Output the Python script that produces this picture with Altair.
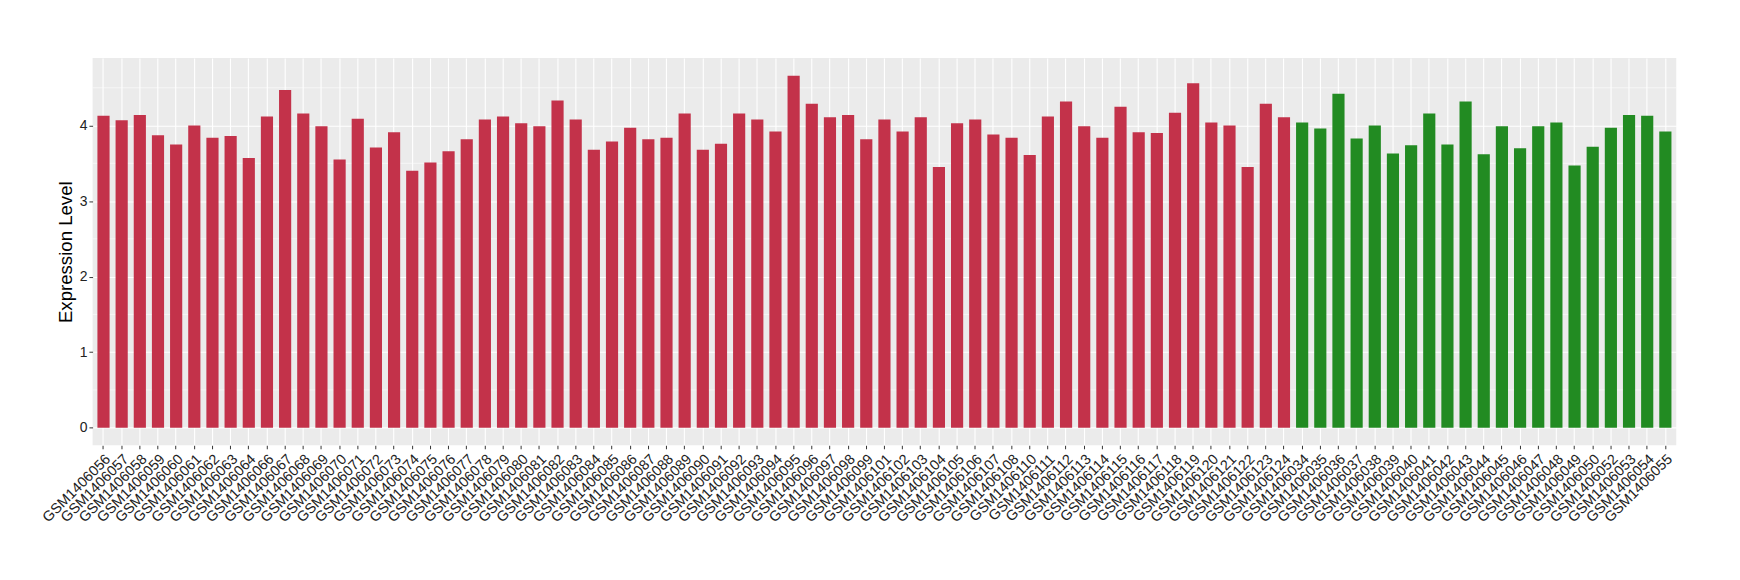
import altair as alt
import pandas as pd

case_ids = ["056", "057", "058", "059", "060", "061", "062", "063", "064", "066",
            "067", "068", "069", "070", "071", "072", "073", "074", "075", "076",
            "077", "078", "079", "080", "081", "082", "083", "084", "085", "086",
            "087", "088", "089", "090", "091", "092", "093", "094", "095", "096",
            "097", "098", "099", "101", "102", "103", "104", "105", "106", "107",
            "108", "110", "111", "112", "113", "114", "115", "116", "117", "118",
            "119", "120", "121", "122", "123", "124"]
case_values = [4.13, 4.07, 4.14, 3.87, 3.75, 4.00, 3.84, 3.86, 3.57, 4.12,
               4.47, 4.16, 3.99, 3.55, 4.09, 3.71, 3.91, 3.40, 3.51, 3.66,
               3.82, 4.08, 4.12, 4.03, 3.99, 4.33, 4.08, 3.68, 3.79, 3.97,
               3.82, 3.84, 4.16, 3.68, 3.76, 4.16, 4.08, 3.92, 4.66, 4.29,
               4.11, 4.14, 3.82, 4.08, 3.92, 4.11, 3.45, 4.03, 4.08, 3.88,
               3.84, 3.61, 4.12, 4.32, 3.99, 3.84, 4.25, 3.91, 3.90, 4.17,
               4.56, 4.04, 4.00, 3.45, 4.29, 4.11]
control_ids = ["034", "035", "036", "037", "038", "039", "040", "041", "042", "043",
               "044", "045", "046", "047", "048", "049", "050", "052", "053", "054",
               "055"]
control_values = [4.04, 3.96, 4.42, 3.83, 4.00, 3.63, 3.74, 4.16, 3.75, 4.32,
                  3.62, 3.99, 3.70, 3.99, 4.04, 3.47, 3.72, 3.97, 4.14, 4.13,
                  3.92]
groups = ["case", "control"]
group_colors = ["#C3324A", "#228B22"]
y_ticks = [0, 1, 2, 3, 4]
minor_grid = [0.5, 1.5, 2.5, 3.5, 4.5]

samples = ["GSM1406" + s for s in case_ids] + ["GSM1406" + s for s in control_ids]
values = case_values + control_values
grp = [groups[0]] * len(case_ids) + [groups[1]] * len(control_ids)
df = pd.DataFrame({"sample": samples, "value": values, "group": grp})
minor_df = pd.DataFrame({"m": minor_grid})

vmax = max(values)
ydom = [-0.05 * vmax, vmax * 1.05]

FONT = "Liberation Sans"
W, H = 1591, 389

yscale = alt.Scale(domain=ydom, nice=False, zero=False)
yaxis = alt.Axis(
    values=y_ticks,
    title="Expression Level",
    titleFont=FONT,
    titleFontSize=18.7,
    titleFontWeight="normal",
    titleColor="black",
    titleAngle=270,
    titleAlign="center",
    titleBaseline="alphabetic",
    titleX=-21,
    titleY=H / 2,
    labelFont=FONT,
    labelFontSize=14,
    labelColor="#222222",
    labelPadding=2,
    tickColor="#333333",
    tickSize=3.7,
    tickWidth=1,
    domain=False,
    grid=True,
    gridColor="white",
    gridWidth=1.1,
)

minor = alt.Chart(minor_df).mark_rule(color="white", strokeWidth=0.55).encode(
    y=alt.Y("m:Q", scale=yscale, axis=yaxis)
)

bars = alt.Chart(df).mark_bar().encode(
    x=alt.X(
        "sample:N",
        sort=None,
        scale=alt.Scale(paddingInner=0.33, paddingOuter=0.265),
        axis=alt.Axis(
            title=None,
            labelAngle=-45,
            labelAlign="right",
            labelBaseline="top",
            labelFont=FONT,
            labelFontSize=14.5,
            labelColor="#222222",
            labelPadding=3,
            labelOverlap=False,
            labelBound=False,
            labelLimit=0,
            tickColor="#333333",
            tickSize=3.5,
            tickWidth=1,
            domain=False,
            grid=True,
            gridColor="white",
            gridWidth=1.1,
            bandPosition=0.5,
        ),
    ),
    y=alt.Y("value:Q", scale=yscale, axis=yaxis),
    y2=alt.datum(0),
    color=alt.Color("group:N", scale=alt.Scale(domain=groups, range=group_colors), legend=None),
)

chart = alt.layer(minor, bars).properties(
    width=W,
    height=H,
    autosize=alt.AutoSizeParams(type="none"),
    padding={"left": 85, "top": 49, "right": 56, "bottom": 134},
    background="white",
).configure_view(fill="#EBEBEB", stroke=None)

chart.save("out.html", embed_options={"renderer": "svg", "actions": False})
